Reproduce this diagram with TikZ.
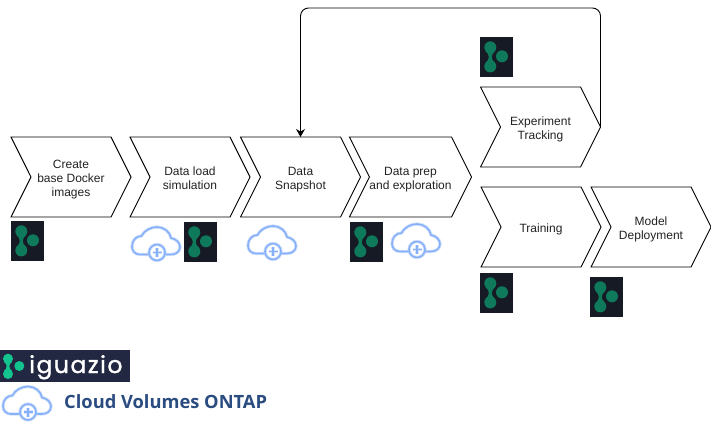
\documentclass[tikz,border=0pt]{standalone}
\usepackage{fontspec}
\setmainfont{Liberation Sans}
\newfontfamily\poppinsf[FakeBold=1.3,LetterSpace=6.5]{Poppins}
\newfontfamily\opensansf{Open Sans}
\usetikzlibrary{shapes.symbols,arrows.meta}
\definecolor{logobg}{HTML}{151A25}
\definecolor{logogreen}{HTML}{0F7A5B}
\definecolor{bannerbg}{HTML}{222842}
\definecolor{bannergreen}{HTML}{14C48E}
\definecolor{cloudblue}{HTML}{86B0F9}
\definecolor{cloudglow}{HTML}{D5E3FC}
\definecolor{ontapblue}{HTML}{2B4C80}
\definecolor{labelgrey}{HTML}{222222}
\newcommand\chevtext[1]{\raisebox{-2.5pt}[\height][\depth]{\begin{tabular}{@{}c@{}}#1\end{tabular}}}
\tikzset{
  x=1pt,y=-1pt,
  chevron/.style={draw=black,line width=0.9pt,signal,signal to=east,signal from=west,
    signal pointer angle=126.87,minimum width=120pt,minimum height=80pt,
    inner sep=0pt,outer sep=0pt,text=labelgrey,font=\fontsize{12}{14}\selectfont},
  link/.style={draw=black,line width=0.9pt,rounded corners=8pt,-{Stealth[length=8pt,width=9pt]}},
  pics/logoicon/.style={code={
    \fill[logobg] (0,0) rectangle (33,40);
    \fill[logogreen] (10.3,10.3) circle (6) (10.3,29.4) circle (6) (22,19.3) circle (6);
    \fill[logogreen] (5.5,14) .. controls (9.9,18) and (9.9,22) .. (5.5,26) -- (15.1,26) .. controls (10.7,22) and (10.7,18) .. (15.1,14) -- cycle;
  }},
  cloudpath/.style={line cap=round,line join=round},
  pics/cloudicon/.style={code={
    \foreach \c/\w in {cloudglow/3.4pt,cloudblue/1.6pt}{
      \draw[cloudpath,draw=\c,line width=\w]
        (16,27.5) -- (8,27.5) .. controls (3,27.5) and (0,24) .. (0,19.5)
        .. controls (0,13.5) and (4,9) .. (9.5,9)
        .. controls (12,3.5) and (19,0) .. (25,0)
        .. controls (32,0) and (38,5) .. (39,11)
        .. controls (44,12) and (48,15.5) .. (48,20)
        .. controls (48,24.5) and (44,27.5) .. (39,27.5) -- (34,27.5);
      \draw[draw=\c,line width=\w] (25,25.5) circle (8);
      \draw[draw=\c,line width=\w] (20.5,25.5) -- (29.5,25.5) (25,21) -- (25,30);
    }
  }}
}
\begin{document}
\begin{tikzpicture}
\useasboundingbox (0,0) rectangle (711,426);
\node[chevron] (create) at (71,177) {\chevtext{Create\\base Docker\\images}};
\node[chevron] (load) at (190,177) {\chevtext{Data load\\simulation}};
\node[chevron] (snap) at (300.5,177) {\chevtext{Data\\Snapshot}};
\node[chevron] (prep) at (410.5,177) {\chevtext{Data prep\\and exploration}};
\node[chevron] (track) at (540.5,127) {\chevtext{Experiment\\Tracking}};
\node[chevron] (train) at (541,227) {\chevtext{Training}};
\node[chevron] (deploy) at (651,227) {\chevtext{Model\\Deployment}};
\coordinate (top) at (450,8);
\draw[link] (track.east) -- (track.east |- top) -- (snap.north |- top) -- (snap.north);
\pic at (11,221) {logoicon};
\pic at (184,222) {logoicon};
\pic at (350,222) {logoicon};
\pic at (480,37) {logoicon};
\pic at (480,273) {logoicon};
\pic at (590,277) {logoicon};
\pic at (132,227) {cloudicon};
\pic at (248,226) {cloudicon};
\pic at (392,224) {cloudicon};
\fill[bannerbg] (0,350) rectangle (130,382);
\fill[bannergreen] (8,358.7) circle (5) (8,374) circle (5) (19.3,366) circle (5);
\fill[bannergreen] (4.2,362) .. controls (7.4,364.5) and (7.4,368) .. (4.2,371) -- (11.8,371) .. controls (8.6,368) and (8.6,364.5) .. (11.8,362) -- cycle;
\node[anchor=base west,inner sep=0pt,text=white,font=\poppinsf\fontsize{23.5}{24}\selectfont] (iguazio) at (29,373) {iguazio};
\pic at (3,386.5) {cloudicon};
\node[anchor=base west,inner sep=0pt,text=ontapblue,font=\opensansf\bfseries\fontsize{18.3}{20}\selectfont] (ontap) at (64,408) {Cloud Volumes ONTAP};
\end{tikzpicture}
\end{document}
